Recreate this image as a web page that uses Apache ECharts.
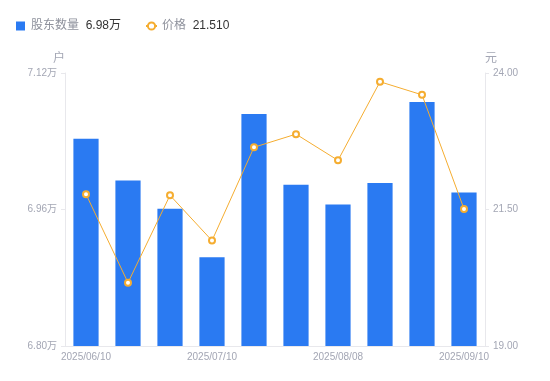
<!DOCTYPE html>
<html>
<head>
<meta charset="utf-8">
<script src="https://cdn.jsdelivr.net/npm/echarts@6/dist/echarts.min.js"></script>
<style>
  html, body { margin: 0; padding: 0; background: #fff; }
  #main { width: 550px; height: 381px; }
</style>
</head>
<body>
<div id="main"></div>
<script>
var dates = ['2025/06/10', '2025/06/20', '2025/06/30', '2025/07/10', '2025/07/18',
             '2025/07/31', '2025/08/08', '2025/08/20', '2025/08/29', '2025/09/10'];
var holders = [70430, 69940, 69610, 69040, 70720, 69890, 69660, 69910, 70860, 69800];
var prices = [21.78, 20.16, 21.76, 20.93, 22.64, 22.88, 22.40, 23.84, 23.60, 21.51];
var leftTicks = [68000, 71200, 1600];
var rightTicks = [19, 24, 2.5];

var chart = echarts.init(document.getElementById('main'));
var font = 'Liberation Sans, "Noto Sans CJK SC", sans-serif';
var labelColor = '#a3a6b4';
var lineColor = '#e8e8ec';

function wan(v) {
  return (v / 10000).toFixed(2) + '万';
}

var option = {
  textStyle: { fontFamily: font },
  legend: {
    left: 11,
    top: 15,
    itemWidth: 11,
    itemHeight: 9,
    itemGap: 24,
    data: [
      { name: '股东数量', icon: 'path://M0,0H10V10H0Z' },
      { name: '价格' }
    ],
    formatter: function(name) {
      if (name === '股东数量') {
        return '{n|' + name + '}  {v|' + wan(holders[holders.length - 1]) + '}';
      }
      return '{n|' + name + '}  {v|' + prices[prices.length - 1].toFixed(3) + '}';
    },
    textStyle: {
      fontFamily: font,
      rich: {
        n: { color: '#8e919c', fontSize: 12, fontFamily: font },
        v: { color: '#333333', fontSize: 12, fontFamily: font }
      }
    }
  },
  grid: { left: 65, right: 65, top: 73, bottom: 35 },
  xAxis: {
    type: 'category',
    data: dates,
    axisLine: { lineStyle: { color: lineColor } },
    axisTick: { show: false },
    axisLabel: { color: labelColor, fontSize: 10, interval: 2, margin: 6 }
  },
  yAxis: [
    {
      type: 'value',
      name: '户',
      nameGap: 8,
      nameTextStyle: { color: labelColor, fontSize: 12, align: 'right' },
      min: leftTicks[0],
      max: leftTicks[1],
      interval: leftTicks[2],
      axisLine: { show: true, lineStyle: { color: lineColor } },
      axisTick: { show: true, length: 4, lineStyle: { color: lineColor } },
      splitLine: { show: false },
      axisLabel: { color: labelColor, fontSize: 10, margin: 8, formatter: wan }
    },
    {
      type: 'value',
      name: '元',
      nameGap: 8,
      nameTextStyle: { color: labelColor, fontSize: 12, align: 'left' },
      min: rightTicks[0],
      max: rightTicks[1],
      interval: rightTicks[2],
      axisLine: { show: true, lineStyle: { color: lineColor } },
      axisTick: { show: true, length: 4, lineStyle: { color: lineColor } },
      splitLine: { show: false },
      axisLabel: {
        color: labelColor, fontSize: 10, margin: 8,
        formatter: function(v) { return v.toFixed(2); }
      }
    }
  ],
  series: [
    {
      name: '股东数量',
      type: 'bar',
      barWidth: '60%',
      itemStyle: { color: '#2a7af2' },
      data: holders
    },
    {
      name: '价格',
      type: 'line',
      yAxisIndex: 1,
      symbol: 'emptyCircle',
      symbolSize: 6,
      itemStyle: { color: '#f5ad30', borderWidth: 2 },
      lineStyle: { width: 1, color: '#f5ad30' },
      data: prices
    }
  ]
};
chart.setOption(option);
</script>
</body>
</html>
